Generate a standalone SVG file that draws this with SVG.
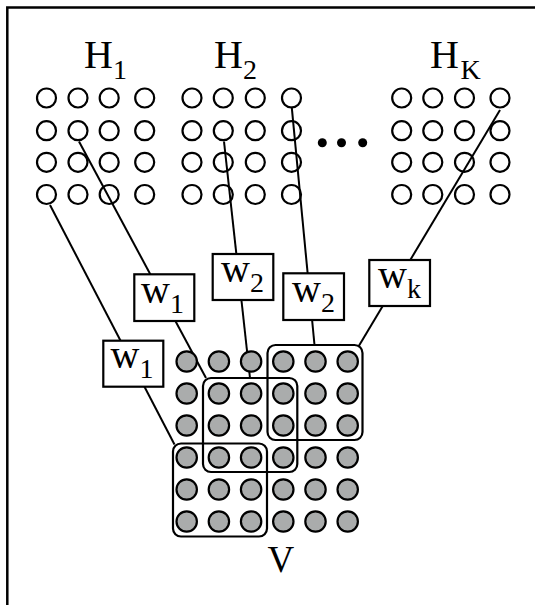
<svg xmlns="http://www.w3.org/2000/svg" width="535" height="605" viewBox="0 0 535 605">
<style>
.frame{stroke:#000;stroke-width:2.5;fill:none}
.h{fill:none;stroke:#000;stroke-width:2.2}
.dot{fill:#000}
.v{fill:#aaacac;stroke:#000;stroke-width:2.2}
.win{fill:none;stroke:#000;stroke-width:2.2}
.box{fill:#fff;stroke:#000;stroke-width:2.2}
.edge{stroke:#000;stroke-width:2;fill:none}
.t{font-family:"Liberation Serif","Times New Roman",serif;fill:#000}
.big{font-size:40px}
.sub{font-size:28px}
</style>
<defs>
<g id="col4"><circle class="h" cx="0" cy="98" r="9.5"/><circle class="h" cx="0" cy="130.7" r="9.5"/><circle class="h" cx="0" cy="162.3" r="9.5"/><circle class="h" cx="0" cy="194.5" r="9.5"/></g>
<g id="vcol"><circle class="v" cx="0" cy="361.5" r="10.2"/><circle class="v" cx="0" cy="393.5" r="10.2"/><circle class="v" cx="0" cy="425.5" r="10.2"/><circle class="v" cx="0" cy="457.5" r="10.2"/><circle class="v" cx="0" cy="489.5" r="10.2"/><circle class="v" cx="0" cy="521.5" r="10.2"/></g>
</defs>
<rect width="535" height="605" fill="#fff"/>
<path class="frame" d="M7.3,605 V7.5 H535"/>
<g id="connectors">
<line class="edge" x1="50" y1="205" x2="174.5" y2="444.5"/>
<line class="edge" x1="79" y1="141.5" x2="206" y2="378"/>
<line class="edge" x1="224" y1="141.5" x2="250" y2="378"/>
<line class="edge" x1="291.7" y1="106.7" x2="314.5" y2="345"/>
<line class="edge" x1="500" y1="110" x2="358.5" y2="346.5"/>
</g>
<g id="H1">
<use href="#col4" x="46.5"/><use href="#col4" x="78"/><use href="#col4" x="109.2"/><use href="#col4" x="144.7"/>
<text class="t big" x="84" y="68">H<tspan class="sub" dy="11">1</tspan></text>
</g>
<g id="H2">
<use href="#col4" x="192"/><use href="#col4" x="223.3"/><use href="#col4" x="255.3"/><use href="#col4" x="291.5"/>
<text class="t big" x="214" y="68">H<tspan class="sub" dy="11">2</tspan></text>
</g>
<g id="ellipsis">
<circle class="dot" cx="322.3" cy="142.7" r="4.5"/><circle class="dot" cx="341.5" cy="142.7" r="4.5"/><circle class="dot" cx="362.7" cy="142.7" r="4.5"/>
</g>
<g id="HK">
<use href="#col4" x="401.7"/><use href="#col4" x="432.8"/><use href="#col4" x="464.5"/><use href="#col4" x="500"/>
<text class="t big" x="430" y="68">H<tspan class="sub" dx="1.5" dy="11">K</tspan></text>
</g>
<g id="w1a">
<rect class="box" x="134.3" y="274.3" width="60" height="46.7"/>
<text class="t big" x="141" y="303">w<tspan class="sub" dy="10">1</tspan></text>
</g>
<g id="w1b">
<rect class="box" x="103.3" y="340.7" width="60" height="46"/>
<text class="t big" x="110.5" y="368.3">w<tspan class="sub" dy="10">1</tspan></text>
</g>
<g id="w2a">
<rect class="box" x="212.7" y="254" width="60.6" height="46"/>
<text class="t big" x="221" y="281.7">w<tspan class="sub" dy="10">2</tspan></text>
</g>
<g id="w2b">
<rect class="box" x="283.3" y="273.3" width="60.7" height="46.7"/>
<text class="t big" x="292" y="301.7">w<tspan class="sub" dy="10">2</tspan></text>
</g>
<g id="wk">
<rect class="box" x="369.3" y="260" width="60.7" height="46"/>
<text class="t big" x="378" y="288.3">w<tspan class="sub" dy="10">k</tspan></text>
</g>
<g id="V">
<use href="#vcol" x="186.7"/><use href="#vcol" x="218.9"/><use href="#vcol" x="251.1"/><use href="#vcol" x="283.3"/><use href="#vcol" x="315.5"/><use href="#vcol" x="347.7"/>
<text class="t" font-size="37" x="267.5" y="571.7">V</text>
</g>
<g id="windows">
<rect class="win" x="173" y="443.5" width="94" height="93" rx="8"/>
<rect class="win" x="203" y="378" width="94.3" height="94" rx="8"/>
<rect class="win" x="267.5" y="345" width="95" height="95" rx="8"/>
</g>
</svg>
